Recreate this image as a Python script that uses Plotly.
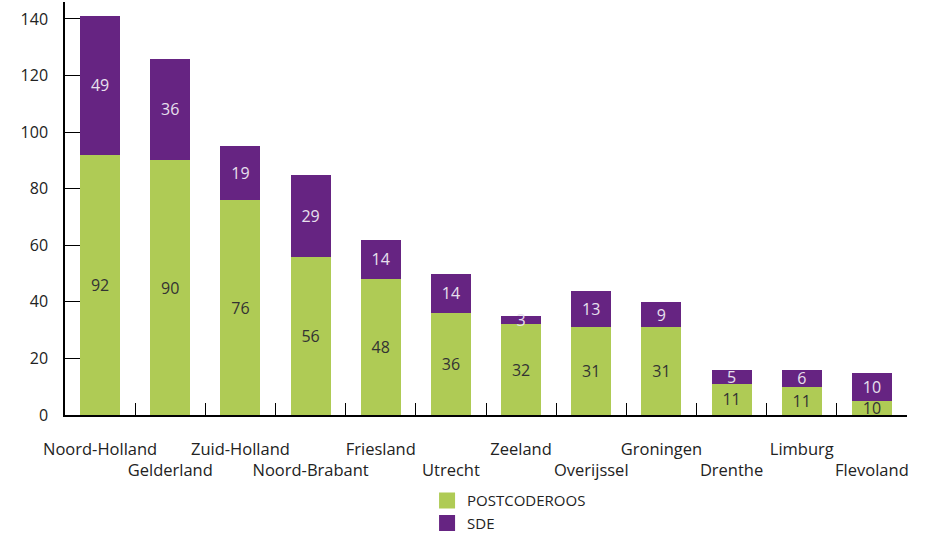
import plotly.graph_objects as go

# Data
provinces = ['Noord-Holland', 'Gelderland', 'Zuid-Holland', 'Noord-Brabant', 'Friesland', 'Utrecht',
             'Zeeland', 'Overijssel', 'Groningen', 'Drenthe', 'Limburg', 'Flevoland']
postcoderoos = [92, 90, 76, 56, 48, 36, 32, 31, 31, 11, 10, 5]
sde = [49, 36, 19, 29, 14, 14, 3, 13, 9, 5, 6, 10]
postcoderoos_labels = ['92', '90', '76', '56', '48', '36', '32', '31', '31', '11', '11', '10']
sde_labels = ['49', '36', '19', '29', '14', '14', '3', '13', '9', '5', '6', '10']
y_ticks = [0, 20, 40, 60, 80, 100, 120, 140]

green = '#afcb55'
purple = '#662482'
font = 'Open Sans, Noto Sans, sans-serif'

# staggered x labels: every second one on a second row
tick_text = [p if i % 2 == 0 else '<br>' + p for i, p in enumerate(provinces)]

fig = go.Figure()
fig.add_trace(go.Bar(
    x=provinces, y=postcoderoos, name='POSTCODEROOS',
    marker=dict(color=green, line_width=0), text=postcoderoos_labels,
    textposition='inside', insidetextanchor='middle', constraintext='none', textangle=0,
    textfont=dict(color='#333333', size=16, family=font),
    showlegend=False,
))
fig.add_trace(go.Bar(
    x=provinces, y=sde, name='SDE',
    marker=dict(color=purple, line_width=0), text=sde_labels,
    textposition='inside', insidetextanchor='middle', constraintext='none', textangle=0,
    textfont=dict(color='#e8e0ee', size=16, family=font),
    showlegend=False,
))

# legend entries with bigger square swatches
for name, col in [('POSTCODEROOS', green), ('SDE', purple)]:
    fig.add_trace(go.Scatter(
        x=[None], y=[None], mode='markers', name=name,
        marker=dict(symbol='square', size=18, color=col),
    ))

fig.update_layout(
    barmode='stack',
    bargap=0.43,
    width=933, height=540,
    margin=dict(l=65, r=26, t=2, b=124),
    paper_bgcolor='white',
    plot_bgcolor='white',
    font=dict(family=font, size=16, color='#222222'),
    legend=dict(
        x=0.43, y=-0.298, xanchor='left', yanchor='bottom',
        font=dict(size=15, color='#222222'),
        traceorder='normal', tracegroupgap=0, itemsizing='trace',
    ),
    xaxis=dict(
        tickmode='array', tickvals=provinces, ticktext=tick_text, tickangle=0,
        tickson='boundaries', ticks='inside', ticklen=12, tickcolor='black',
        showline=True, linecolor='black', linewidth=1.5,
        showgrid=False, ticklabelstandoff=18, automargin=False,
        tickfont=dict(size=16.5),
    ),
    yaxis=dict(
        range=[0, 146], tickvals=y_ticks,
        ticks='inside', ticklen=15, tickcolor='black',
        showline=True, linecolor='black', linewidth=1.5,
        showgrid=False, zeroline=False, ticklabelstandoff=12, automargin=False,
    ),
)

# drop the default page margin so the figure sits at the window corner
fig.write_html('out.html', config={'displayModeBar': False},
               post_script="document.body.style.margin='0';")
